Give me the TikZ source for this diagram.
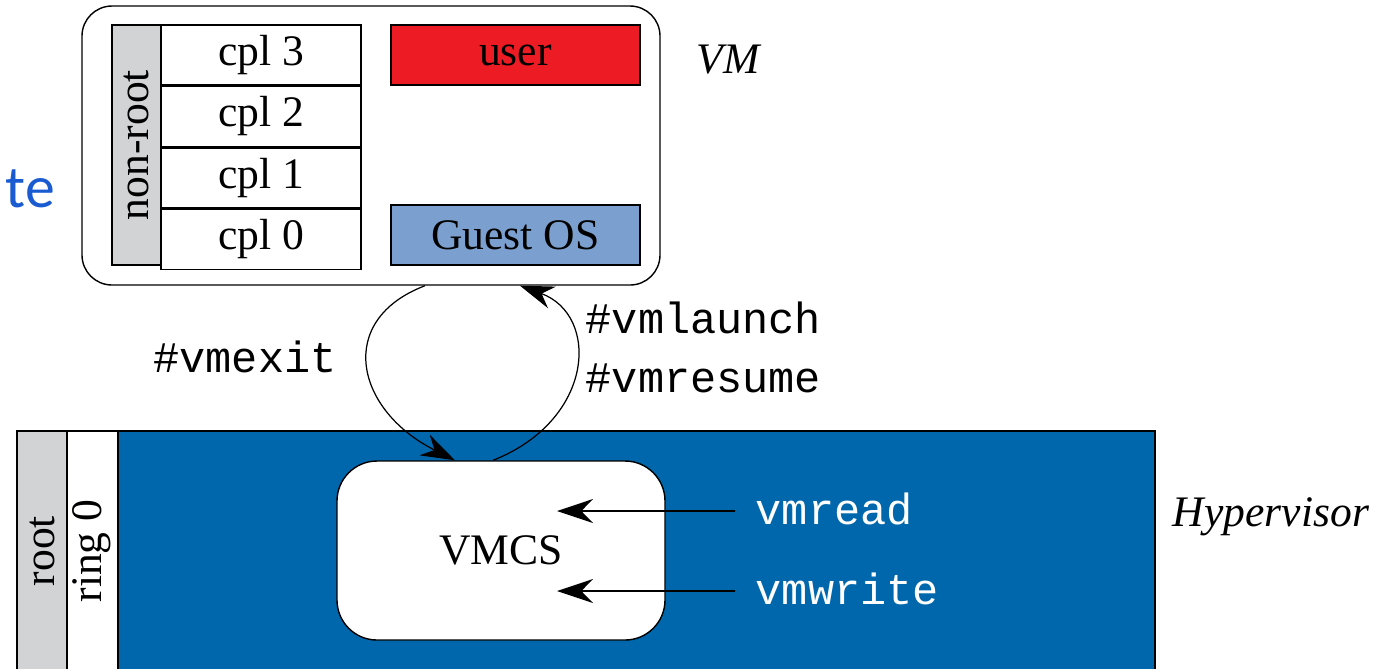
\documentclass[tikz,border=0pt]{standalone}
\usepackage{fontspec}
\setmainfont{Liberation Serif}
\setmonofont{Liberation Mono}
\newfontfamily\slidefont{Carlito}
\usetikzlibrary{arrows.meta,positioning}
\definecolor{lvlgrey}{HTML}{D1D3D4}
\definecolor{userred}{HTML}{ED1C24}
\definecolor{guestblue}{HTML}{7B9FCE}
\definecolor{hypblue}{HTML}{0067AC}
\definecolor{slideblue}{HTML}{1B5BD2}
\tikzset{
  frame/.style={draw=black, line width=0.4pt},
  txt/.style={font=\fontsize{12.4}{14}\selectfont},
  code/.style={font=\fontsize{12.4}{14}\selectfont\ttfamily},
  cell/.style={frame, txt, minimum width=20mm, minimum height=6mm, inner sep=0pt},
  modebox/.style={frame, txt, minimum width=24.9mm, minimum height=6mm, inner sep=0pt},
  sidecol/.style={frame, txt, fill=lvlgrey, inner sep=0pt, rotate=90},
  trans/.style={-{Stealth[length=3.4mm,width=2.3mm]}, line width=0.35pt},
  access/.style={-{Stealth[length=3.6mm,width=2.4mm]}, line width=0.5pt}
}
\begin{document}
\begin{tikzpicture}[x=0.1mm,y=-0.1mm]
  \clip (0,0) rectangle (1396,668);

  % guest side
  \node[frame, rounded corners=3mm, minimum width=57.8mm, minimum height=27.9mm] (vm) at (371,145.5) {};
  \node[cell] (cpl3) at (261,55) {cpl 3};
  \node[cell, below=0mm of cpl3] (cpl2) {cpl 2};
  \node[cell, below=0mm of cpl2] (cpl1) {cpl 1};
  \node[cell, below=0mm of cpl1] (cpl0) {cpl 0};
  \node[sidecol, minimum width=24mm, minimum height=4.9mm] (nonroot) at (136.5,145) {non-root};
  \node[modebox, fill=userred] (user) at (515.5,55) {user};
  \node[modebox, fill=guestblue] (guest) at (515.5,235) {Guest OS};
  \node[txt, font=\fontsize{12.4}{14}\selectfont\itshape] (vmlab) at (728,60) {VM};
  \node[anchor=base west, inner sep=0pt, text=slideblue, font=\fontsize{17}{20}\slidefont] (te) at (5,207) {te};

  % host side
  \draw[frame, fill=hypblue] (118,431) rectangle (1155,690);
  \draw[frame, fill=lvlgrey] (17,431) rectangle (67,690);
  \draw[frame, fill=white] (67,431) rectangle (118,690);
  \node[txt, rotate=90] (root) at (42,551) {root};
  \node[txt, rotate=90] (ring) at (92,551) {ring 0};
  \node[frame, fill=white, txt, rounded corners=4mm, minimum width=32.8mm, minimum height=17.9mm] (vmcs) at (501,550.5) {VMCS};
  \node[code, text=white, anchor=west, inner sep=0pt, xshift=2mm] (rd) at (735,509) {vmread};
  \node[code, text=white, anchor=west, inner sep=0pt, xshift=2mm] (wr) at (735,589) {vmwrite};
  \coordinate (rdtip) at (557,511);
  \coordinate (wrtip) at (557,591);
  \draw[access] ([xshift=-2mm,yshift=-0.2mm]rd.west) -- (rdtip);
  \draw[access] ([xshift=-2mm,yshift=-0.2mm]wr.west) -- (wrtip);
  \node[txt, font=\fontsize{12.4}{14}\selectfont\itshape] (hyplab) at (1271,517) {Hypervisor};

  % transitions
  \draw[trans] ([xshift=5.4mm]vm.south) .. controls (335,320) and (355,410) .. ([xshift=-4.6mm]vmcs.north);
  \draw[trans] ([xshift=-0.8mm]vmcs.north) .. controls (595,420) and (600,315) .. ([xshift=14.9mm]vm.south);
  \node[code] (exitlab) at (245,357) {\#vmexit};
  \node[code, anchor=west, inner sep=0pt] (launchlab) at (585,318) {\#vmlaunch};
  \node[code, anchor=west, inner sep=0pt] (resumelab) at (585,378) {\#vmresume};
\end{tikzpicture}
\end{document}
